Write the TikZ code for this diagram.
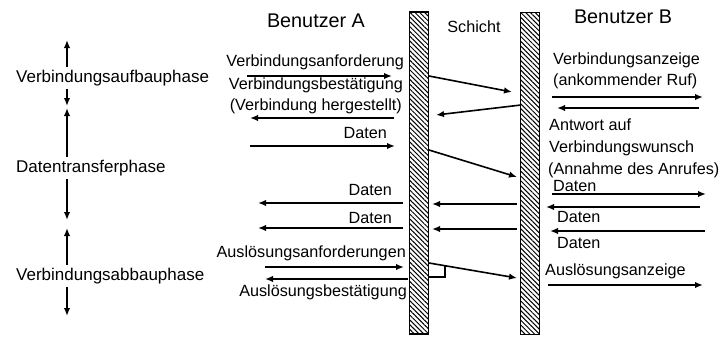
\documentclass[tikz,border=0pt]{standalone}
\usepackage{fontspec}
\setmainfont{Liberation Sans}
\usetikzlibrary{arrows.meta,patterns.meta}
\begin{document}
\begin{tikzpicture}[x=1pt,y=-1pt,
  arr/.style={line width=1.6pt,-{Latex[length=8pt,width=6.5pt]}},
  darr/.style={line width=1.6pt,{Latex[length=8pt,width=6.5pt]}-{Latex[length=8pt,width=6.5pt]}},
  bar/.style={draw,line width=1.8pt,pattern={Lines[angle=-45,distance=3.4pt,line width=1pt]},inner sep=0pt,minimum width=19pt,minimum height=322pt},
  lbl/.style={font=\fontsize{16.2}{19}\selectfont,inner sep=0pt},
  phase/.style={font=\fontsize{17}{20}\selectfont,fill=white,inner xsep=0pt,inner ysep=3pt},
  head/.style={font=\fontsize{19.8}{23}\selectfont,inner sep=0pt},
  tick/.style={line width=1.2pt}]
\useasboundingbox (0,0) rectangle (723,338);
% bars
\node[bar] (LB) at (419,173) {};
\node[bar] (RB) at (530,173.5) {};
% headings
\node[head,anchor=base] (hA) at (316,27) {Benutzer A};
\node[head,anchor=base] (hB) at (623,23) {Benutzer B};
\node[lbl,anchor=base] (hS) at (474,32) {Schicht};
% phase arrows
\coordinate (p1a) at (67,40);  \coordinate (p1b) at (67,106);
\coordinate (p2a) at (67,108); \coordinate (p2b) at (67,220);
\coordinate (p3a) at (67,228); \coordinate (p3b) at (67,316);
\draw[darr] (p1a) -- (p1b);
\draw[darr] (p2a) -- (p2b);
\draw[darr] (p3a) -- (p3b);
\node[phase,anchor=base west] (ph1) at (16,82) {Verbindungsaufbauphase};
\node[phase,anchor=base west] (ph2) at (16,172) {Datentransferphase};
\node[phase,anchor=base west] (ph3) at (16,280) {Verbindungsabbauphase};
% user A side
\coordinate (a1s) at (247,76);  \coordinate (a1e) at (392,76);
\coordinate (a2s) at (394,118); \coordinate (a2e) at (250,118);
\coordinate (a3s) at (250,146); \coordinate (a3e) at (395,146);
\coordinate (a4s) at (403,203); \coordinate (a4e) at (258,203);
\coordinate (a5s) at (403,228); \coordinate (a5e) at (258,228);
\coordinate (a6s) at (265,267); \coordinate (a6e) at (404,267);
\coordinate (a7s) at (408,279); \coordinate (a7e) at (265,279);
\foreach \i in {1,...,7} {\draw[arr] (a\i s) -- (a\i e);}
\node[lbl,anchor=base east] (tA1) at (404,66) {Verbindungsanforderung};
\node[lbl,anchor=base east] (tA2) at (403,89) {Verbindungsbestätigung};
\node[lbl,anchor=base east] (tA3) at (402,110) {(Verbindung hergestellt)};
\node[lbl,anchor=base east] (tA4) at (387,138) {Daten};
\node[lbl,anchor=base east] (tA5) at (392,195) {Daten};
\node[lbl,anchor=base east] (tA6) at (392,223) {Daten};
\node[lbl,anchor=base east] (tA7) at (406,257) {Auslösungsanforderungen};
\node[lbl,anchor=base east] (tA8) at (407,296) {Auslösungsbestätigung};
% layer crossings
\coordinate (d1s) at (429,76);  \coordinate (d1e) at (512,92);
\coordinate (d2s) at (521,105); \coordinate (d2e) at (436,115);
\coordinate (d3s) at (429,150); \coordinate (d3e) at (517,177);
\coordinate (d4s) at (517,204); \coordinate (d4e) at (432,204);
\coordinate (d5s) at (517,229); \coordinate (d5e) at (432,229);
\coordinate (d6s) at (429,263); \coordinate (d6e) at (517,278);
\foreach \i in {1,...,6} {\draw[arr] (d\i s) -- (d\i e);}
\coordinate (k1) at (429,277); \coordinate (k2) at (445,277); \coordinate (k3) at (445,266);
\draw[tick] (k1) -- (k2) -- (k3);
% user B side
\coordinate (b1s) at (552,97);  \coordinate (b1e) at (703,97);
\coordinate (b2s) at (699,108); \coordinate (b2e) at (557,108);
\coordinate (b3s) at (552,194); \coordinate (b3e) at (706,194);
\coordinate (b4s) at (700,207); \coordinate (b4e) at (546,207);
\coordinate (b5s) at (705,231); \coordinate (b5e) at (550,231);
\coordinate (b6s) at (548,285); \coordinate (b6e) at (703,285);
\foreach \i in {1,...,6} {\draw[arr] (b\i s) -- (b\i e);}
\node[lbl,anchor=base west] (tB1) at (553,64) {Verbindungsanzeige};
\node[lbl,anchor=base west] (tB2) at (553,85) {(ankommender Ruf)};
\node[lbl,anchor=base west] (tB3) at (549,130) {Antwort auf};
\node[lbl,anchor=base west] (tB4) at (549,152) {Verbindungswunsch};
\node[lbl,anchor=base west] (tB5) at (548,174) {(Annahme des Anrufes)};
\node[lbl,anchor=base west] (tB6) at (553,191) {Daten};
\node[lbl,anchor=base west] (tB7) at (557,222) {Daten};
\node[lbl,anchor=base west] (tB8) at (557,248) {Daten};
\node[lbl,anchor=base west] (tB9) at (545,275) {Auslösungsanzeige};
\end{tikzpicture}
\end{document}
